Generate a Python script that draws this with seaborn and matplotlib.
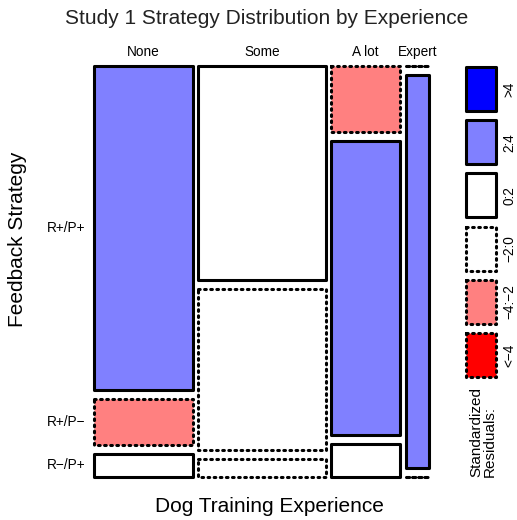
import numpy as np
import pandas as pd
import seaborn as sns
import matplotlib.pyplot as plt

# categories
experience = ["None", "Some", "A lot", "Expert"]
strategies = ["R+/P+", "R+/P\u2212", "R\u2212/P+"]

# counts (one list per strategy, across experience)
n_pp = [28, 24, 4, 0]
n_pm = [4, 18, 18, 8]
n_mp = [2, 2, 2, 0]

legend_labels = [">4", "2:4", "0:2", "\u22122:0", "\u22124:\u22122", "<\u22124"]
shade_cols = ["#0000FF", "#8080FF", "#FFFFFF", "#FFFFFF", "#FF8080", "#FF0000"]

sns.set_style("white")
plt.rcParams["font.family"] = ["Liberation Sans", "DejaVu Sans"]
plt.rcParams["text.color"] = "black"

W, H = 517, 520
fig = plt.figure(figsize=(W / 100, H / 100), dpi=100)

tab = pd.DataFrame([n_pp, n_pm, n_mp], index=strategies, columns=experience)
N = tab.values.sum()
expct = np.outer(tab.sum(axis=1), tab.sum(axis=0)) / N
resid = (tab.values - expct) / np.sqrt(expct)

def shade_idx(r):
    if r > 4:
        return 0
    if r > 2:
        return 1
    if r >= 0:
        return 2
    if r >= -2:
        return 3
    if r >= -4:
        return 4
    return 5

LW = 2.2
DASH = (0, (0.55, 1.45))

# main mosaic axes
ax = fig.add_axes([94 / W, 1 - 477 / H, (429 - 94) / W, (477 - 66) / H])
ax.set_xlim(0, 1)
ax.set_ylim(1, 0)
ax.axis("off")

gx = 5.3 / 335
gy = 9 / 411
col_tot = tab.sum(axis=0).values
widths = (1 - gx * (len(experience) - 1)) * col_tot / N
lefts = np.concatenate([[0], np.cumsum(widths)[:-1]]) + gx * np.arange(len(experience))

for j, e in enumerate(experience):
    hs = (1 - gy * (len(strategies) - 1)) * tab[e].values / col_tot[j]
    tops = np.concatenate([[0], np.cumsum(hs)[:-1]]) + gy * np.arange(len(strategies))
    for i, s in enumerate(strategies):
        k = shade_idx(resid[i, j])
        bars = ax.bar(lefts[j], hs[i], width=widths[j], bottom=tops[i], align="edge",
                      color=shade_cols[k], edgecolor="black", linewidth=LW,
                      linestyle=DASH if resid[i, j] < 0 else "solid")
        for p in bars:
            p.set_joinstyle("round")
            p.set_capstyle("round")
            p.set_clip_on(False)
        if j == 0:
            ax.text(-9 / 335, tops[i] + hs[i] / 2, s, ha="right", va="center", fontsize=9.8)
    ax.text(lefts[j] + widths[j] / 2, -14 / 411, e, ha="center", va="center", fontsize=9.8)

# legend axes in pixel coordinates
lax = fig.add_axes([0, 0, 1, 1], zorder=-1)
lax.set_xlim(0, W)
lax.set_ylim(H, 0)
lax.axis("off")
for k, lab in enumerate(legend_labels):
    top = 67 + k * 53.2
    bars = lax.bar(466, 44, width=30, bottom=top, align="edge", color=shade_cols[k],
                   edgecolor="black", linewidth=LW, linestyle=DASH if k >= 3 else "solid")
    for p in bars:
        p.set_joinstyle("round")
        p.set_capstyle("round")
    lax.text(509, top + 22, lab, rotation=90, ha="center", va="center", fontsize=9.8)
lax.text(483, 477, "Standardized\nResiduals:", rotation=90, ha="center", va="bottom",
         multialignment="left", fontsize=11, linespacing=0.95)

fig.text(267 / W, 1 - 18 / H, "Study 1 Strategy Distribution by Experience",
         ha="center", va="center", fontsize=15, color="#222222")
fig.text(269 / W, 1 - 507 / H, "Dog Training Experience", ha="center", va="center", fontsize=15)
fig.text(18 / W, 1 - 239 / H, "Feedback Strategy", ha="center", va="center",
         rotation=90, fontsize=15)

fig.savefig("out.png", dpi=100)
